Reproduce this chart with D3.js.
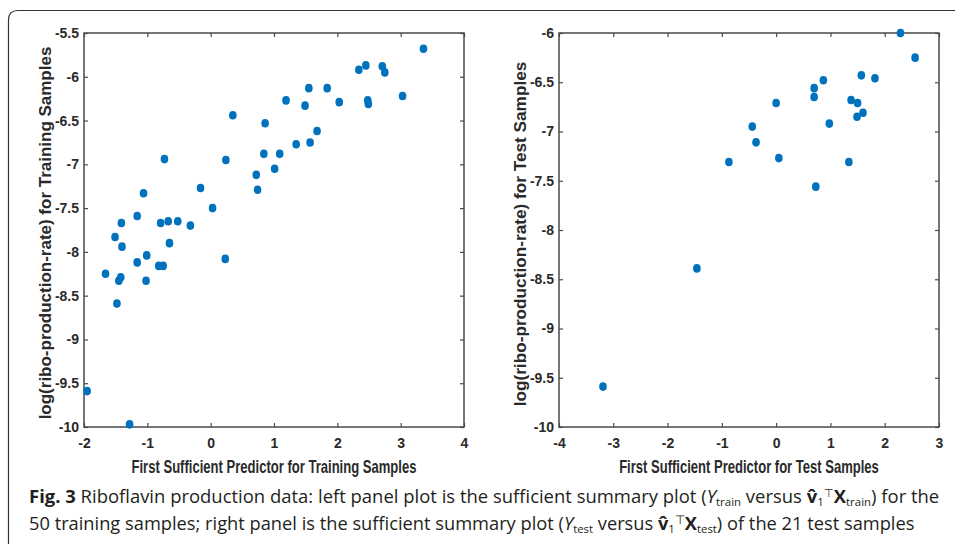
<!DOCTYPE html>
<html><head><meta charset="utf-8">
<script src="https://cdn.jsdelivr.net/npm/d3@7"></script>
<style>
html,body{margin:0;padding:0;background:#fff;}
svg{display:block;}
</style></head>
<body>
<svg id="chart" width="955" height="544"></svg>
<script>
// ---- data ----
const trainX = [3.36, 2.34, 2.45, 2.71, 2.75, 3.03, 2.48, 2.49, 1.55, 1.84, 2.03, 1.19, 1.49, 0.35, 0.86, 1.68, 1.35, 1.57, 0.84, 1.09, 1.01, 0.72, 0.74, 0.24, -0.73, -0.16, 0.03, -1.06, -1.16, -1.41, -0.79, -0.67, -0.52, -0.32, -1.51, -1.40, -0.65, -1.16, -1.01, -0.82, -0.75, 0.23, -1.66, -1.42, -1.45, -1.02, -1.48, -1.95, -1.28];
const trainY = [-5.68, -5.92, -5.87, -5.88, -5.95, -6.22, -6.27, -6.31, -6.13, -6.13, -6.29, -6.27, -6.33, -6.44, -6.53, -6.62, -6.77, -6.75, -6.88, -6.88, -7.05, -7.12, -7.29, -6.95, -6.94, -7.27, -7.50, -7.33, -7.59, -7.67, -7.67, -7.65, -7.65, -7.70, -7.83, -7.94, -7.90, -8.12, -8.04, -8.16, -8.16, -8.08, -8.25, -8.29, -8.33, -8.33, -8.59, -9.59, -9.97];
const testX = [2.29, 2.56, 1.57, 1.82, 0.87, 0.70, 0.70, 0.00, 1.38, 1.50, 1.60, 1.49, 0.98, -0.44, -0.37, -0.87, 0.05, 1.34, 0.73, -1.46, -3.19];
const testY = [-6.00, -6.25, -6.43, -6.46, -6.48, -6.56, -6.65, -6.71, -6.68, -6.71, -6.81, -6.85, -6.92, -6.95, -7.11, -7.31, -7.27, -7.31, -7.56, -8.39, -9.59];
const trainXTicks = [-2, -1, 0, 1, 2, 3, 4];
const trainYTicks = [-10, -9.5, -9, -8.5, -8, -7.5, -7, -6.5, -6, -5.5];
const testXTicks = [-4, -3, -2, -1, 0, 1, 2, 3];
const testYTicks = [-10, -9.5, -9, -8.5, -8, -7.5, -7, -6.5, -6];
const trainXLabel = "First Sufficient Predictor for Training Samples";
const trainYLabel = "log(ribo-production-rate) for Training Samples";
const testXLabel = "First Sufficient Predictor for Test Samples";
const testYLabel = "log(ribo-production-rate) for Test Samples";

const svg = d3.select("#chart");
const AX = "#4a4a4a", DOT = "#0072BD";
const TICKFONT = "'Liberation Sans Narrow','Liberation Sans',Arial,sans-serif";

// frame
svg.append("path")
  .attr("d", "M8.5,560 L8.5,20 Q8.5,10.5 18,10.5 L970,10.5")
  .attr("fill", "none").attr("stroke", "#333").attr("stroke-width", 1.2);

// text squeezed horizontally (along its own direction) to a target length
function fitText(parent, str, size, targetW, transform) {
  const outer = parent.append("g").attr("transform", transform);
  const inner = outer.append("g");
  const t = inner.append("text").attr("text-anchor", "middle")
    .attr("font-family", TICKFONT).attr("font-size", size)
    .attr("font-weight", "bold").attr("fill", "#2a2a2a").text(str);
  const w = t.node().getComputedTextLength();
  inner.attr("transform", `scale(${targetW / w},1)`);
}

function panel(cfg) {
  const x = d3.scaleLinear().domain(cfg.xDom).range([cfg.x0, cfg.x1]);
  const y = d3.scaleLinear().domain(cfg.yDom).range([cfg.y1, cfg.y0]);
  const g = svg.append("g");
  const fmt = d => String(d);
  const styleAxis = sel => {
    sel.select(".domain").remove();
    sel.selectAll(".tick line").attr("stroke", AX).attr("stroke-width", 1.2);
    sel.selectAll("text").attr("font-family", TICKFONT).attr("font-size", 14)
      .attr("fill", "#2a2a2a").attr("font-weight", "bold");
  };
  g.append("g").attr("transform", `translate(0,${cfg.y1})`)
    .call(d3.axisBottom(x).tickValues(cfg.xTicks).tickFormat(fmt).tickSize(-4).tickPadding(11))
    .call(styleAxis);
  g.append("g").attr("transform", `translate(0,${cfg.y0})`)
    .call(d3.axisTop(x).tickValues(cfg.xTicks).tickFormat("").tickSize(-4))
    .call(styleAxis);
  g.append("g").attr("transform", `translate(${cfg.x0},0)`)
    .call(d3.axisLeft(y).tickValues(cfg.yTicks).tickFormat(fmt).tickSize(-4).tickPadding(5))
    .call(styleAxis);
  g.append("g").attr("transform", `translate(${cfg.x1},0)`)
    .call(d3.axisRight(y).tickValues(cfg.yTicks).tickFormat("").tickSize(-4))
    .call(styleAxis);
  g.append("rect").attr("x", cfg.x0).attr("y", cfg.y0)
    .attr("width", cfg.x1 - cfg.x0).attr("height", cfg.y1 - cfg.y0)
    .attr("fill", "none").attr("stroke", AX).attr("stroke-width", 1.5);
  g.append("g").selectAll("ellipse").data(cfg.xs.map((v, i) => [v, cfg.ys[i]]))
    .join("ellipse").attr("cx", d => x(d[0])).attr("cy", d => y(d[1]))
    .attr("rx", 3.8).attr("ry", 4.3).attr("fill", DOT);
  fitText(g, cfg.xLabel, 18, cfg.xlW, `translate(${(cfg.x0 + cfg.x1) / 2},${cfg.y1 + 46})`);
  fitText(g, cfg.yLabel, 17, cfg.ylW, `translate(${cfg.ylX},${(cfg.y0 + cfg.y1) / 2 + cfg.ylDy}) rotate(-90)`);
}

panel({x0: 84, x1: 464, y0: 33, y1: 427, xDom: [-2, 4], yDom: [-10, -5.5],
  xTicks: trainXTicks, yTicks: trainYTicks, xs: trainX, ys: trainY,
  xLabel: trainXLabel, yLabel: trainYLabel, xlW: 285, ylW: 373, ylX: 51, ylDy: 3});
panel({x0: 559, x1: 939, y0: 33, y1: 427, xDom: [-4, 3], yDom: [-10, -6],
  xTicks: testXTicks, yTicks: testYTicks, xs: testX, ys: testY,
  xLabel: testXLabel, yLabel: testYLabel, xlW: 260, ylW: 345, ylX: 526, ylDy: 4});

// caption
const CAPFONT = "'Open Sans','Noto Sans',sans-serif";
function captionLine(yBase, parts, targetW) {
  const g = svg.append("g");
  const t = g.append("text").attr("x", 0).attr("y", 0)
    .attr("font-family", CAPFONT).attr("font-size", 18.5).attr("fill", "#231f20");
  let cur = 0;
  parts.forEach(p => {
    const ts = t.append("tspan").text(p.t);
    const want = p.dy || 0;
    if (want !== cur) { ts.attr("dy", want - cur); cur = want; }
    if (p.dx) ts.attr("dx", p.dx);
    if (p.b) ts.attr("font-weight", "bold");
    if (p.i) ts.attr("font-style", "italic");
    if (p.s) ts.attr("font-size", p.s);
  });
  const w = t.node().getComputedTextLength();
  g.attr("transform", `translate(29,${yBase}) scale(${targetW / w},1)`);
}
const sub = 3, sup = -6.5, SS = 11.5;
captionLine(503, [
  {t: "Fig. 3", b: true},
  {t: "  Riboflavin production data: left panel plot is the sufficient summary plot ("},
  {t: "Y", i: true}, {t: "train", dy: sub, s: SS},
  {t: " versus "},
  {t: "v\u0302", b: true}, {t: "1", dy: sub, s: SS}, {t: "\u22A4", dy: sup, s: SS},
  {t: "X", b: true}, {t: "train", dy: sub, s: SS},
  {t: ") for the"}
], 911);
captionLine(530, [
  {t: "50 training samples; right panel is the sufficient summary plot ("},
  {t: "Y", i: true}, {t: "test", dy: sub, s: SS},
  {t: " versus "},
  {t: "v\u0302", b: true}, {t: "1", dy: sub, s: SS}, {t: "\u22A4", dy: sup, s: SS},
  {t: "X", b: true}, {t: "test", dy: sub, s: SS},
  {t: ") of the 21 test samples"}
], 886);
</script>
</body></html>
